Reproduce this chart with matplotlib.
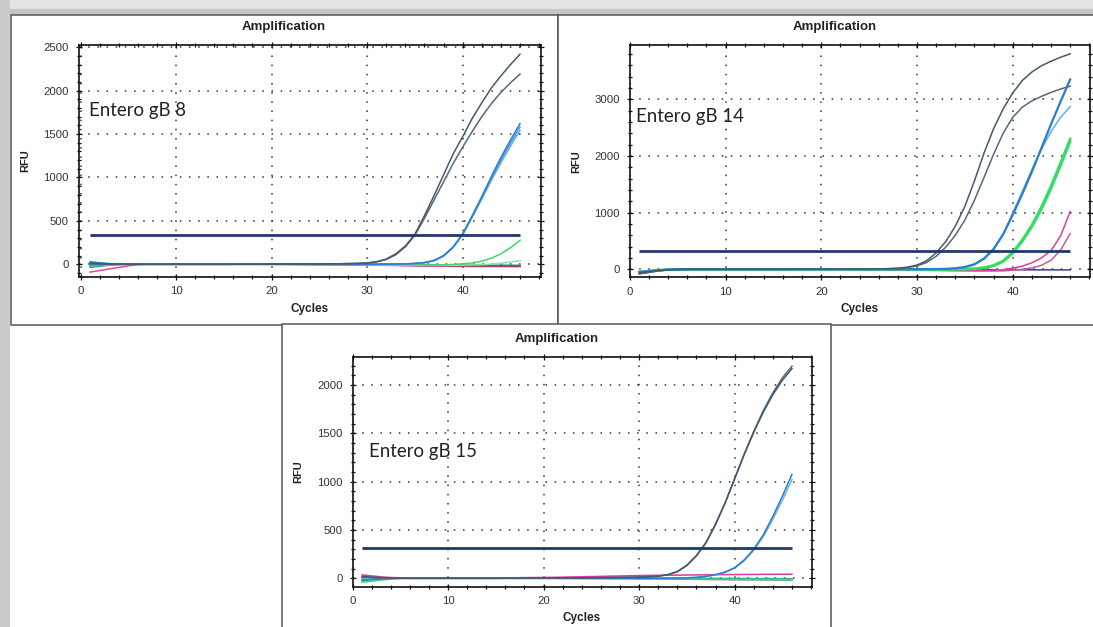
import matplotlib.pyplot as plt
from matplotlib.patches import Rectangle
from matplotlib.ticker import MultipleLocator
import numpy as np

plt.rcParams['font.family'] = ['Liberation Sans', 'DejaVu Sans']

cycles = np.arange(1, 47)

# ---- panel 1: Entero gB 8 ----
p1_dark_1 = [12, 8, 5, 3, 1, 0, 0, 0, 0, 0,
             0, 0, 0, 0, 0, 1, 1, 1, 2, 2,
             2, 3, 3, 4, 4, 5, 6, 8, 10, 15,
             30, 60, 120, 210, 345, 560, 790, 1030, 1270, 1470,
             1680, 1860, 2030, 2170, 2300, 2420]
p1_dark_2 = [4, 3, 2, 1, 0, 0, 0, 0, 0, 0,
             0, 0, 0, 0, 0, 1, 1, 1, 2, 2,
             2, 3, 3, 4, 4, 5, 6, 8, 10, 14,
             28, 55, 110, 200, 335, 530, 740, 950, 1160, 1350,
             1530, 1700, 1850, 1980, 2090, 2190]
p1_blue_1 = [20, 12, 6, 2, 0, 0, 0, 0, 0, 0,
             0, 0, 0, 0, 0, 0, 0, 0, 0, 0,
             0, 0, 0, 0, 0, 0, 0, 0, 0, 0,
             1, 2, 3, 5, 10, 20, 45, 100, 200, 350,
             560, 780, 1010, 1230, 1430, 1620]
p1_blue_2 = [-15, -8, -4, -1, 0, 0, 0, 0, 0, 0,
             0, 0, 0, 0, 0, 0, 0, 0, 0, 0,
             0, 0, 0, 0, 0, 0, 0, 0, 0, 0,
             1, 2, 3, 5, 10, 19, 43, 97, 195, 345,
             550, 765, 985, 1200, 1395, 1580]
p1_blue_3 = [5, 3, 1, 0, 0, 0, 0, 0, 0, 0,
             0, 0, 0, 0, 0, 0, 0, 0, 0, 0,
             0, 0, 0, 0, 0, 0, 0, 0, 0, 0,
             1, 1, 2, 4, 8, 17, 40, 92, 190, 340,
             540, 750, 965, 1170, 1360, 1540]
p1_green_1 = [-25, -15, -8, -3, 0, 0, 0, 0, 0, 0,
              0, 0, 0, 0, 0, 0, 0, 0, 0, 0,
              0, 0, -1, -1, -2, -2, -3, -3, -4, -4,
              -5, -6, -6, -7, -7, -8, -8, -6, -2, 5,
              15, 35, 70, 120, 190, 275]
p1_green_2 = [-10, -6, -3, -1, 0, 0, 0, 0, 0, 0,
              0, 0, 0, 0, 0, 0, 0, 0, 0, 0,
              0, 0, -1, -2, -3, -4, -5, -6, -7, -7,
              -8, -9, -10, -10, -11, -11, -12, -12, -12, -10,
              -8, -5, 2, 12, 25, 42]
p1_magenta = [-90, -72, -54, -36, -18, -4, 0, 0, 0, 0,
              0, 0, 0, 0, 0, 0, 0, 0, 0, 0,
              0, 0, -1, -2, -3, -4, -5, -6, -7, -8,
              -10, -12, -14, -16, -18, -20, -21, -22, -23, -24,
              -25, -25, -26, -26, -27, -27]
p1_teal_1 = [30, 18, 8, 2, 0, 0, 0, 0, 0, 0,
             0, 0, 0, 0, 0, 0, 0, 0, 0, 0,
             0, 0, 0, -1, -1, -2, -2, -3, -3, -4,
             -4, -5, -5, -6, -6, -7, -7, -8, -8, -9,
             -9, -10, -10, -10, -11, -11]
p1_teal_2 = [-35, -22, -10, -3, 0, 0, 0, 0, 0, 0,
             0, 0, 0, 0, 0, 0, 0, 0, 0, 0,
             0, 0, 0, 0, -1, -1, -2, -2, -3, -3,
             -4, -5, -6, -7, -8, -9, -10, -11, -12, -13,
             -14, -15, -15, -16, -16, -17]
p1_crimson = [8, 5, 3, 1, 0, 0, 0, 0, 0, 0,
              0, 0, 0, 0, 0, 0, 0, 0, 0, 0,
              0, -1, -1, -2, -3, -4, -5, -6, -7, -8,
              -9, -10, -11, -12, -13, -14, -15, -16, -17, -18,
              -19, -20, -20, -21, -21, -22]
p1_threshold = 334

# ---- panel 2: Entero gB 14 ----
p2_dark_1 = [-60, -40, -20, -8, -2, 0, 0, 0, 0, 0,
             0, 0, 0, 0, 0, 0, 1, 1, 2, 2,
             3, 4, 5, 6, 7, 8, 12, 20, 38, 75,
             150, 290, 490, 760, 1110, 1560, 2050, 2480, 2830, 3110,
             3330, 3480, 3590, 3670, 3740, 3800]
p2_dark_2 = [-75, -50, -25, -10, -3, 0, 0, 0, 0, 0,
             0, 0, 0, 0, 0, 0, 1, 1, 2, 2,
             3, 3, 4, 5, 5, 6, 9, 15, 30, 60,
             120, 230, 390, 600, 870, 1220, 1620, 2030, 2400, 2680,
             2860, 2970, 3050, 3120, 3180, 3230]
p2_blue_1 = [-50, -35, -18, -7, -2, 0, 0, 0, 0, 0,
             0, 0, 0, 0, 0, 0, 0, 0, 0, 0,
             0, 0, 0, 0, 0, 1, 1, 1, 2, 2,
             3, 5, 8, 18, 40, 90, 190, 360, 620, 960,
             1330, 1720, 2140, 2560, 2960, 3350]
p2_blue_2 = [-40, -28, -15, -6, -2, 0, 0, 0, 0, 0,
             0, 0, 0, 0, 0, 0, 0, 0, 0, 0,
             0, 0, 0, 0, 0, 1, 1, 1, 1, 2,
             2, 4, 7, 16, 36, 82, 178, 345, 610, 990,
             1370, 1760, 2120, 2430, 2680, 2870]
p2_green_1 = [-45, -30, -15, -6, -2, 0, 0, 0, 0, 0,
              0, 0, 0, 0, 0, 0, 0, 0, 0, 0,
              0, 0, 0, 0, 0, 0, -1, -1, -1, -1,
              0, 0, 0, 2, 5, 12, 30, 70, 150, 300,
              520, 780, 1100, 1470, 1880, 2300]
p2_green_2 = [-55, -36, -18, -7, -2, 0, 0, 0, 0, 0,
              0, 0, 0, 0, 0, 0, 0, 0, 0, 0,
              0, 0, 0, 0, 0, -1, -1, -2, -3, -4,
              -5, -5, -4, -2, 2, 8, 24, 60, 135, 280,
              490, 750, 1060, 1420, 1830, 2250]
p2_magenta_1 = [-70, -46, -22, -8, -2, 0, 0, 0, 0, 0,
                0, 0, 0, 0, 0, 0, 0, 0, 0, 0,
                0, -1, -2, -3, -4, -5, -6, -8, -10, -12,
                -15, -18, -20, -21, -20, -22, -20, -15, -5, 20,
                55, 115, 200, 330, 590, 1020]
p2_magenta_2 = [-65, -42, -20, -8, -2, 0, 0, 0, 0, 0,
                0, 0, 0, 0, 0, 0, 0, 0, 0, 0,
                0, -1, -2, -3, -4, -6, -8, -10, -12, -14,
                -16, -19, -22, -24, -26, -28, -30, -31, -28, -15,
                0, 25, 70, 160, 340, 630]
p2_navy = [-80, -55, -28, -10, -3, 0, 0, 0, 0, 0,
           0, 0, 0, 0, 0, 0, 0, 0, 0, 0,
           0, 0, 0, 0, -1, -1, -2, -2, -3, -3,
           -4, -4, -5, -5, -6, -6, -7, -7, -8, -8,
           -9, -9, -10, -10, -11, -11]
p2_threshold = 330

# ---- panel 3: Entero gB 15 ----
p3_dark_1 = [20, 12, 6, 3, 1, 0, 0, 0, 0, 0,
             0, 0, 0, 0, 0, 1, 1, 2, 2, 3,
             3, 4, 4, 5, 6, 7, 8, 9, 10, 12,
             16, 22, 38, 70, 135, 235, 370, 560, 780, 1030,
             1280, 1510, 1720, 1900, 2050, 2170]
p3_dark_2 = [15, 9, 5, 2, 1, 0, 0, 0, 0, 0,
             0, 0, 0, 0, 0, 1, 1, 2, 2, 3,
             3, 4, 4, 5, 6, 7, 8, 9, 10, 11,
             15, 21, 36, 68, 132, 232, 365, 555, 778, 1030,
             1285, 1520, 1735, 1920, 2075, 2195]
p3_blue_1 = [-20, -12, -6, -2, 0, 0, 0, 0, 0, 0,
             0, 0, 0, 0, 0, 0, 0, 0, 0, 0,
             0, 0, 0, 0, 0, 0, 0, 0, 0, 0,
             0, 1, 2, 3, 5, 10, 20, 38, 65, 110,
             190, 300, 450, 640, 850, 1075]
p3_blue_2 = [-10, -6, -3, -1, 0, 0, 0, 0, 0, 0,
             0, 0, 0, 0, 0, 0, 0, 0, 0, 0,
             0, 0, 0, 0, 0, 0, 0, 0, 0, 0,
             0, 0, 1, 2, 4, 9, 18, 35, 60, 104,
             180, 290, 430, 610, 810, 1020]
p3_magenta = [35, 25, 15, 8, 5, 3, 2, 2, 2, 3,
              3, 3, 4, 4, 5, 5, 6, 7, 8, 9,
              10, 12, 14, 16, 18, 20, 22, 24, 26, 28,
              30, 31, 32, 33, 34, 35, 36, 37, 38, 39,
              40, 40, 41, 41, 42, 42]
p3_green = [-40, -30, -18, -8, -2, 0, 0, 0, 0, 0,
            0, 0, 0, 0, 0, 0, 0, 0, 0, 0,
            0, 0, 0, -1, -1, -1, -2, -2, -2, -3,
            -3, -4, -5, -6, -7, -8, -9, -10, -10, -11,
            -11, -12, -12, -12, -13, -13]
p3_gray = [5, 3, 2, 1, 0, 0, 0, 0, 0, 0,
           0, 0, 0, 0, 0, 0, 0, 0, 0, 0,
           0, -1, -1, -2, -2, -3, -3, -4, -4, -5,
           -6, -7, -8, -9, -10, -11, -12, -13, -14, -15,
           -15, -16, -16, -17, -17, -18]
p3_teal = [-25, -15, -6, -2, 0, 0, 0, 0, 0, 0,
           0, 0, 0, 0, 0, 0, 0, 0, 0, 0,
           0, 0, 0, 0, 0, 0, 0, 0, 0, 0,
           0, 0, 0, 0, 0, -1, -1, -1, -2, -2,
           -2, -3, -3, -3, -4, -4]
p3_threshold = 311

W, H = 1093, 627
fig = plt.figure(figsize=(W / 100, H / 100), dpi=100)


def px_box(l, t, r, b):
    return [l / W, 1 - b / H, (r - l) / W, (b - t) / H]


def px_text(x, y, s, **kw):
    fig.text(x / W, 1 - y / H, s, **kw)


# background of the screenshot collage
bg = fig.add_axes([0, 0, 1, 1], zorder=-10)
bg.set_xlim(0, W)
bg.set_ylim(H, 0)
bg.axis('off')
bg.add_patch(Rectangle((0, 0), W, 9, color='#e3e3e3', lw=0))
bg.add_patch(Rectangle((0, 9), W, 6, color='#c5c5c5', lw=0))
bg.add_patch(Rectangle((0, 0), 10, H, color='#cbcbcb', lw=0))
for (x0, y0, w, h) in [(10.5, 15, 547.5, 310), (558, 15, 560, 310), (282, 324, 549, 320)]:
    bg.add_patch(Rectangle((x0, y0), w, h, fc='white', ec='#555555', lw=1.1))

dark = ['#46586b', '#56687a']
blue = ['#2c7dd0', '#4898de', '#69b2ea']
green = ['#39d86a', '#86e6a2']

panels = [
    dict(box=(78.6, 45, 541, 276.7), xlim=(-0.2, 48.2), ylim=(-143, 2526),
         ymaj=500, ymin=100, thr=p1_threshold,
         curves=[(p1_magenta, '#e04aa0', 1.1), (p1_teal_1, '#2aa7a8', 1.1),
                 (p1_teal_2, '#3c8fa6', 1.1), (p1_crimson, '#b03050', 1.1),
                 (p1_green_2, green[1], 1.1), (p1_green_1, green[0], 1.1),
                 (p1_blue_3, blue[2], 1.1), (p1_blue_2, blue[1], 1.1),
                 (p1_blue_1, blue[0], 1.1),
                 (p1_dark_2, dark[1], 1.1), (p1_dark_1, dark[0], 1.1)],
         title=(284, 27), cyc=(310, 309), rfu=(25, 161),
         label='Entero gB 8', lab_xy=(88.6, 116)),
    dict(box=(629.8, 45, 1090.3, 277.3), xlim=(0, 48.1), ylim=(-141, 3956),
         ymaj=1000, ymin=200, thr=p2_threshold,
         curves=[(p2_navy, '#3a3f8f', 1.1), (p2_magenta_2, '#d0589c', 1.1),
                 (p2_magenta_1, '#e0409a', 1.1),
                 (p2_green_2, '#3fd873', 1.8), (p2_green_1, '#2fe060', 1.8),
                 (p2_blue_2, blue[2], 1.2), (p2_blue_1, blue[0], 1.6),
                 (p2_dark_2, dark[1], 1.1), (p2_dark_1, dark[0], 1.1)],
         title=(835, 27), cyc=(860, 309), rfu=(576, 162),
         label='Entero gB 14', lab_xy=(636.3, 121.7)),
    dict(box=(352.5, 356.7, 812, 586.7), xlim=(0, 48.1), ylim=(-87, 2294),
         ymaj=500, ymin=100, thr=p3_threshold,
         curves=[(p3_teal, '#2aa7a8', 1.1), (p3_gray, '#7a7a7a', 1.1),
                 (p3_green, green[0], 1.1), (p3_magenta, '#d63c9a', 1.1),
                 (p3_blue_2, blue[2], 1.1), (p3_blue_1, blue[0], 1.1),
                 (p3_dark_2, dark[1], 1.1), (p3_dark_1, dark[0], 1.1)],
         title=(557, 339), cyc=(582, 618), rfu=(298, 472),
         label='Entero gB 15', lab_xy=(368.6, 456.7)),
]

for p in panels:
    ax = fig.add_axes(px_box(*p['box']))
    ax.set_facecolor('white')
    ax.set_xlim(*p['xlim'])
    ax.set_ylim(*p['ylim'])
    ax.xaxis.set_major_locator(MultipleLocator(10))
    ax.xaxis.set_minor_locator(MultipleLocator(2))
    ax.yaxis.set_major_locator(MultipleLocator(p['ymaj']))
    ax.yaxis.set_minor_locator(MultipleLocator(p['ymin']))
    ax.grid(True, which='major', color='#333333', lw=1.1, linestyle=(0, (1, 5)))
    ax.set_axisbelow(True)
    ax.tick_params(which='both', direction='inout', top=True, right=True,
                   labelsize=8.2, labelcolor='#333333', width=0.9, color='#111111')
    ax.tick_params(which='major', length=5, pad=4.5)
    ax.tick_params(which='minor', length=3)
    for s in ax.spines.values():
        s.set_linewidth(1.2)
        s.set_color('#111111')
    for vals, col, lw in p['curves']:
        ax.plot(cycles, vals, color=col, lw=lw)
    ax.hlines(p['thr'], cycles[0], cycles[-1], color='#1f3a64', lw=2, zorder=5)

    px_text(*p['title'], 'Amplification', ha='center', va='center',
            fontsize=9.5, fontweight='bold', color='#222222')
    px_text(*p['cyc'], 'Cycles', ha='center', va='center',
            fontsize=8.5, fontweight='bold', color='#222222')
    px_text(*p['rfu'], 'RFU', ha='center', va='center', rotation=90,
            fontsize=8, fontweight='bold', color='#222222')
    px_text(*p['lab_xy'], p['label'], ha='left', va='baseline',
            fontsize=13.4, family=['Lato', 'DejaVu Sans'], color='#222222', zorder=10)

fig.savefig('out.png', dpi=100)
